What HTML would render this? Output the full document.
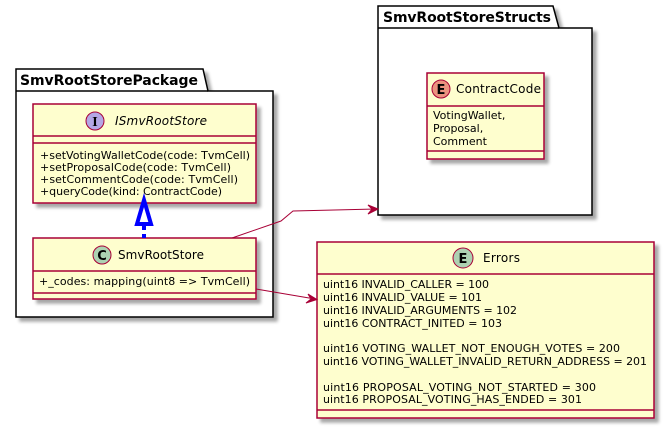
<!DOCTYPE html>
<html><head><meta charset="utf-8"><style>
html,body{margin:0;padding:0;background:#fff;}
svg{display:block;}
text{font-family:"DejaVu Sans","Liberation Sans",sans-serif;fill:#000;}
.m{font-size:11px;}
.t{font-size:12px;}
.p{font-size:14px;font-weight:bold;}
.box{fill:#FEFECE;stroke:#A80036;stroke-width:1.5;}
.ln{stroke:#A80036;stroke-width:1.5;}
.pk{fill:#fff;stroke:#000;stroke-width:1.5;}
</style></head><body>
<svg width="667" height="431" viewBox="0 0 667 431" xmlns="http://www.w3.org/2000/svg">
<defs><filter id="sh" x="-10%" y="-10%" width="130%" height="130%"><feGaussianBlur in="SourceAlpha" stdDeviation="1.5"/><feOffset dx="4" dy="4"/><feComponentTransfer><feFuncA type="linear" slope="0.35"/></feComponentTransfer><feMerge><feMergeNode/><feMergeNode in="SourceGraphic"/></feMerge></filter></defs>

<!-- Package 1 -->
<g filter="url(#sh)">
<path class="pk" d="M16,69 L203,69 L208,91 L273,91 L273,317 L16,317 Z"/>
</g>
<line x1="16" y1="91" x2="208" y2="91" stroke="#000" stroke-width="1.5"/>
<text class="p" x="20" y="85" textLength="178">SmvRootStorePackage</text>

<!-- Package 2 -->
<g filter="url(#sh)">
<path class="pk" d="M378,6 L553,6 L559,28 L592,28 L592,215 L378,215 Z"/>
</g>
<line x1="378" y1="28" x2="559" y2="28" stroke="#000" stroke-width="1.5"/>
<text class="p" x="383" y="22" textLength="168">SmvRootStoreStructs</text>

<!-- ISmvRootStore -->
<g filter="url(#sh)"><rect class="box" x="33" y="104" width="223" height="99"/></g>
<line class="ln" x1="33" y1="136" x2="256" y2="136"/>
<line class="ln" x1="33" y1="143" x2="256" y2="143"/>
<circle cx="95" cy="121" r="9" fill="#B4A7E5" stroke="#A80036" stroke-width="1"/>
<text x="95" y="126" text-anchor="middle" style="font-size:14px;font-weight:bold;font-family:'Liberation Serif',serif">I</text>
<text class="t" x="115" y="125" font-style="italic" textLength="92">ISmvRootStore</text>
<text class="m" x="40" y="159" textLength="210">+setVotingWalletCode(code: TvmCell)</text>
<text class="m" x="40" y="171" textLength="191">+setProposalCode(code: TvmCell)</text>
<text class="m" x="40" y="183" textLength="198">+setCommentCode(code: TvmCell)</text>
<text class="m" x="40" y="195" textLength="182">+queryCode(kind: ContractCode)</text>

<!-- SmvRootStore -->
<g filter="url(#sh)"><rect class="box" x="33" y="238" width="223" height="61"/></g>
<line class="ln" x1="33" y1="271" x2="256" y2="271"/>
<line class="ln" x1="33" y1="293" x2="256" y2="293"/>
<circle cx="102" cy="255" r="9" fill="#ADD1B2" stroke="#A80036" stroke-width="1"/>
<text x="102" y="260" text-anchor="middle" style="font-size:13px;font-weight:bold">C</text>
<text class="t" x="118" y="259" textLength="86">SmvRootStore</text>
<text class="m" x="39" y="285" textLength="211">+_codes: mapping(uint8 =&gt; TvmCell)</text>

<!-- realization -->
<line x1="144" y1="225" x2="144" y2="238" stroke="#0000FF" stroke-width="4" stroke-dasharray="5,4"/>
<path d="M144,200 L137,224 L151,224 Z" fill="#fff" stroke="#0000FF" stroke-width="4" stroke-linejoin="miter"/>

<!-- ContractCode -->
<g filter="url(#sh)"><rect class="box" x="427" y="73" width="117" height="86"/></g>
<line class="ln" x1="427" y1="106" x2="544" y2="106"/>
<line class="ln" x1="427" y1="151" x2="544" y2="151"/>
<circle cx="441" cy="89" r="9" fill="#EB937F" stroke="#A80036" stroke-width="1"/>
<text x="441" y="94" text-anchor="middle" style="font-size:13px;font-weight:bold">E</text>
<text class="t" x="456" y="93" textLength="85">ContractCode</text>
<text class="m" x="433" y="119">VotingWallet,</text>
<text class="m" x="433" y="132">Proposal,</text>
<text class="m" x="433" y="145">Comment</text>

<!-- Errors -->
<g filter="url(#sh)"><rect class="box" x="317" y="242" width="337" height="176"/></g>
<line class="ln" x1="317" y1="274" x2="654" y2="274"/>
<line class="ln" x1="317" y1="410" x2="654" y2="410"/>
<circle cx="463" cy="258" r="10" fill="#ADD1B2" stroke="#A80036" stroke-width="1"/>
<text x="463" y="263" text-anchor="middle" style="font-size:13px;font-weight:bold">E</text>
<text class="t" x="483" y="262" textLength="37">Errors</text>
<text class="m" x="323" y="288" textLength="166">uint16 INVALID_CALLER = 100</text>
<text class="m" x="323" y="301" textLength="159">uint16 INVALID_VALUE = 101</text>
<text class="m" x="323" y="314" textLength="194">uint16 INVALID_ARGUMENTS = 102</text>
<text class="m" x="323" y="327" textLength="179">uint16 CONTRACT_INITED = 103</text>
<text class="m" x="323" y="352" textLength="297">uint16 VOTING_WALLET_NOT_ENOUGH_VOTES = 200</text>
<text class="m" x="323" y="365" textLength="324">uint16 VOTING_WALLET_INVALID_RETURN_ADDRESS = 201</text>
<text class="m" x="323" y="391" textLength="273">uint16 PROPOSAL_VOTING_NOT_STARTED = 300</text>
<text class="m" x="323" y="403" textLength="259">uint16 PROPOSAL_VOTING_HAS_ENDED = 301</text>

<!-- associations -->
<path d="M232,238 L281,221 L293,211 L376,209" fill="none" stroke="#A80036" stroke-width="1"/>
<path d="M378,209 L368,205 L372,209 L368,214 Z" fill="#A80036" stroke="#A80036" stroke-width="1"/>
<path d="M256,289 L315,299" fill="none" stroke="#A80036" stroke-width="1"/>
<path d="M317,299.5 L308,294 L311,299 L306,303 Z" fill="#A80036" stroke="#A80036" stroke-width="1"/>
</svg>
</body></html>
